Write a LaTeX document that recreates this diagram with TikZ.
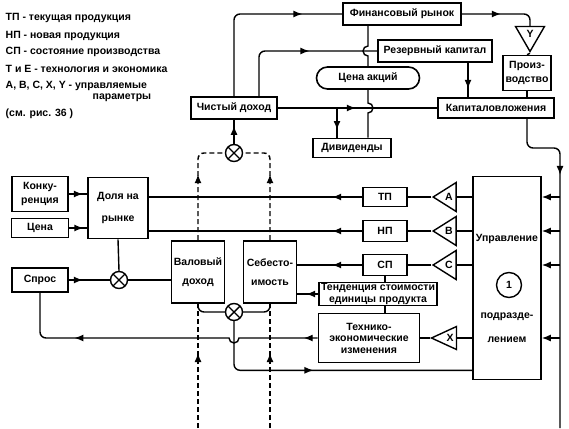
\documentclass[tikz,border=0pt]{standalone}
\usepackage{fontspec}
\setmainfont{Liberation Sans}
\usetikzlibrary{positioning,calc,arrows.meta,shapes.geometric,decorations.markings}
\tikzset{
	box/.style={draw, line width=1.6pt, align=center, inner sep=0.5pt},
	bx/.style 2 args={box, minimum width=#1pt, minimum height=#2pt},
	mult/.style={draw, circle, minimum size=17pt, inner sep=0pt,
		path picture={\draw (path picture bounding box.north west) -- (path picture bounding box.south east)
			(path picture bounding box.north east) -- (path picture bounding box.south west);}},
	amp/.style={draw, isosceles triangle, isosceles triangle stretches, inner sep=0pt},
	marr/.style={postaction={decorate, decoration={markings,
		mark=at position #1 with {\arrow{Latex[length=9pt, width=7pt]}}}}},
	dsh/.style={dash pattern=on 5pt off 3pt},
	leg/.style={anchor=base west, inner sep=0pt}
}

\begin{document}
\begin{tikzpicture}[x=1pt, y=1pt, yscale=-1, line width=1.4pt, font=\fontsize{10.5}{11.5}\selectfont\bfseries]
	\useasboundingbox (0,0) rectangle (569,428);

	\node[leg] (leg1) at (5,21) {ТП - текущая продукция};
	\node[leg] (leg2) at (5,38) {НП - новая продукция};
	\node[leg] (leg3) at (5,55) {СП - состояние производства};
	\node[leg] (leg4) at (5,72) {Т и Е - технология и экономика};
	\node[leg] (leg5) at (5,88) {A, B, C, X, Y - управляемые};
	\node[leg] (leg6) at (92,99) {параметры};
	\node[leg] (leg7) at (5,116) {(см. рис. 36 )};

	\node[bx={118}{22}] (fin) at (402,14) {Финансовый рынок};
	\node[bx={114}{22}] (rez) at (435,51) {Резервный капитал};
	\node[bx={103}{22}, rounded corners=11pt] (cena) at (368,78) {Цена акций};
	\node[bx={48}{35}] (proizv) at (527,73) {Произ-\\[2pt]водство};
	\node[bx={116}{20}] (kap) at (496,108) {Капиталовложения};
	\node[bx={86}{22}] (chist) at (234,108) {Чистый доход};
	\node[bx={78}{19}] (divid) at (352,148) {Дивиденды};

	\node[bx={56}{35}] (konk) at (40,194) {Конку-\\[2pt]ренция};
	\node[bx={57}{19}] (cenaL) at (40,228) {Цена};
	\node[bx={60}{61}] (dolya) at (118,208) {Доля на\\[10pt]рынке};
	\node[bx={56}{24}] (spros) at (40,280) {Спрос};
	\node[bx={53}{62}] (val) at (198,272) {Валовый\\[8pt]доход};
	\node[bx={53}{62}] (seb) at (270,272) {Себесто-\\[8pt]имость};

	\node[bx={44}{19}] (tp) at (385,197) {ТП};
	\node[bx={44}{21}] (np) at (385,231) {НП};
	\node[bx={44}{21}] (sp) at (385,265) {СП};
	\node[bx={118}{23}] (tend) at (378,294) {Тенденция стоимости\\единицы продукта};
	\node[bx={101}{49}] (tech) at (369,338) {Технико-\\экономические\\изменения};

	\node[bx={68}{203}] (upr) at (507,278) {};
	\node (uprT1) at (507,239) {Управление};
	\node[draw, circle, minimum size=25pt, inner sep=0pt] (num) at (509,285) {1};
	\node (uprT2) at (507,317) {подразде-};
	\node (uprT3) at (507,340) {лением};

	\node[amp, shape border rotate=180, minimum width=29pt, minimum height=23pt] (triA) at (449,197) {A};
	\node[amp, shape border rotate=180, minimum width=29pt, minimum height=23pt] (triB) at (449,231) {B};
	\node[amp, shape border rotate=180, minimum width=29pt, minimum height=23pt] (triC) at (449,265) {C};
	\node[amp, shape border rotate=180, minimum width=23pt, minimum height=25pt] (triX) at (450,338) {X};
	\node[amp, shape border rotate=270, minimum width=29pt, minimum height=25pt] (triY) at (530,34) {Y};

	\node[mult] (mulT) at (234,153) {};
	\node[mult] (mulB) at (234,312) {};
	\node[mult] (mulL) at (119,280) {};

	\coordinate (hopA) at (cena.north |- rez.west);
	\coordinate (hopB) at (cena.south |- kap.west);
	\coordinate (hopC) at (mulB.south |- tech.west);
	\coordinate (fbTop) at (560,148);
	\coordinate (fbBot) at (560,428);
	\coordinate (valIn) at (198,428);
	\coordinate (sebIn) at (270,428);

	\draw[marr=148pt, rounded corners=6pt] (chist.north) |- (fin.west);
	\draw[marr=93pt, rounded corners=6pt] ([xshift=25pt]chist.north) |- (rez.west);
	\draw (cena.north |- fin.south) -- ($(hopA)+(0,-5)$) arc[start angle=-90, end angle=-270, radius=5] -- (cena.north);
	\draw (cena.south) -- ($(hopB)+(0,-5)$) arc[start angle=-90, end angle=90, radius=5] -- (cena.south |- divid.north);
	\draw[marr=78pt] (chist.east) -- (kap.west);
	\draw[marr=22pt] ([xshift=-15pt]divid.north |- chist.east) -- ([xshift=-15pt]divid.north);
	\draw[marr=26pt] ([xshift=33pt]rez.south) -- ([xshift=33pt]rez.south |- kap.north);
	\draw[marr=39pt, rounded corners=6pt] (fin.east) -| (triY.lower side);
	\draw (triY.apex) -- (proizv.north);
	\draw (proizv.south) -- (proizv.south |- kap.north);
	\draw[marr=84pt, rounded corners=6pt] (kap.south -| proizv.south) |- (fbTop) -- (fbBot);

	\draw[-{Latex[length=9pt, width=7pt]}] (fbTop |- triA.apex) -- (upr.east |- triA.apex);
	\draw[-{Latex[length=9pt, width=7pt]}] (fbTop |- triB.apex) -- (upr.east |- triB.apex);
	\draw[-{Latex[length=9pt, width=7pt]}] (fbTop |- triC.apex) -- (upr.east |- triC.apex);
	\draw[-{Latex[length=9pt, width=7pt]}] (fbTop |- triX.apex) -- (upr.east |- triX.apex);

	\draw (upr.west |- triA.apex) -- (triA.lower side);
	\draw (upr.west |- triB.apex) -- (triB.lower side);
	\draw (upr.west |- triC.apex) -- (triC.lower side);
	\draw (upr.west |- triX.apex) -- (triX.lower side);
	\draw (triA.apex) -- (tp.east);
	\draw (triB.apex) -- (np.east);
	\draw (triC.apex) -- (sp.east);
	\draw (triX.apex) -- (tech.east);
	\draw[marr=30pt] (tp.west) -- (tp.west -| dolya.east);
	\draw[marr=30pt] (np.west) -- (np.west -| dolya.east);
	\draw[marr=30pt] (sp.west) -- (sp.west -| seb.east);
	\draw (sp.south) -- (sp.south |- tend.north);
	\draw (sp.south |- tend.south) -- (sp.south |- tech.north);
	\draw[marr=12pt] (tend.west) -- (tend.west -| seb.east);

	\draw[marr=14pt, marr=249pt] (tech.west) -- ($(hopC)+(5,0)$) arc[start angle=0, end angle=180, radius=5]
		{[rounded corners=6pt] -| (spros.south)};
	\draw[marr=126pt, rounded corners=6pt] (mulB.south) |- ($(upr.south west)+(0,-10)$);

	\draw[marr=14pt] (konk.east) -- (konk.east -| dolya.west);
	\draw[marr=14pt] (cenaL.east) -- (cenaL.east -| dolya.west);
	\draw[marr=14pt] (spros.east) -- (mulL.west);
	\draw (dolya.south) -- (mulL.north);
	\draw (mulL.east) -- (mulL.east -| val.west);

	\draw[marr=18pt] (mulT.north) -- (mulT.north |- chist.south);
	\draw[dsh, marr=66pt, rounded corners=6pt] (val.north) |- (mulT.west);
	\draw[dsh, marr=66pt, rounded corners=6pt] (seb.north) |- (mulT.east);
	\draw[rounded corners=6pt] (val.south) |- (mulB.west);
	\draw[rounded corners=6pt] (seb.south) |- (mulB.east);
	\draw[dsh, marr=75pt] (valIn) -- (val.south);
	\draw[dsh, marr=75pt] (sebIn) -- (seb.south);
\end{tikzpicture}
\end{document}
